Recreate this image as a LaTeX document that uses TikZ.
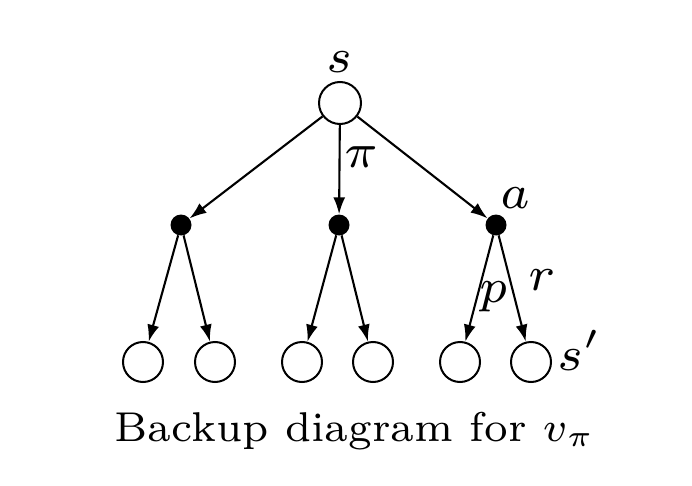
\documentclass[tikz,border=0pt]{standalone}
\usetikzlibrary{arrows.meta}
\newcommand{\biglab}[1]{\scalebox{6.9}{\fontsize{7}{8}\selectfont$#1$}}
\begin{document}
\begin{tikzpicture}[x=1pt,y=-1pt,
  state/.style={circle,draw,line width=2pt,minimum size=40pt,inner sep=0pt,fill=white},
  action/.style={circle,fill=black,minimum size=21pt,inner sep=0pt},
  edge/.style={line width=2.1pt,-{Latex[length=17pt,width=12pt]}},
  lab/.style={inner sep=0pt,anchor=base}]
\useasboundingbox (0,0) rectangle (692,486);
\node[state,minimum size=42pt] (s) at (340,103) {};
\node[action] (a1) at (181,225) {};
\node[action] (a2) at (339,225) {};
\node[action] (a3) at (496,225) {};
\node[state] (l1) at (143,362) {};
\node[state] (l2) at (215,362) {};
\node[state] (l3) at (302,362) {};
\node[state] (l4) at (373,362) {};
\node[state] (l5) at (460,362) {};
\node[state] (l6) at (531,362) {};
\draw[edge] (s) -- (a1);
\draw[edge] (s) -- (a2);
\draw[edge] (s) -- (a3);
\draw[edge] (a1) -- (l1);
\draw[edge] (a1) -- (l2);
\draw[edge] (a2) -- (l3);
\draw[edge] (a2) -- (l4);
\draw[edge] (a3) -- (l5);
\draw[edge] (a3) -- (l6);
\node[lab] (ls) at (340,73) {\biglab{s}};
\node[lab] (lpi) at (361,168) {\biglab{\pi}};
\node[lab] (la) at (515,208) {\biglab{a}};
\node[lab] (lp) at (494,302) {\biglab{p}};
\node[lab] (lr) at (542,290) {\biglab{r}};
\node[lab,anchor=base west] (lsp) at (557,370) {\biglab{s'}};
\node[anchor=base,inner sep=0pt] (cap) at (355,441) {\scalebox{5.95}{\fontsize{7}{8}\selectfont Backup diagram for $v_\pi$}};
\end{tikzpicture}
\end{document}
